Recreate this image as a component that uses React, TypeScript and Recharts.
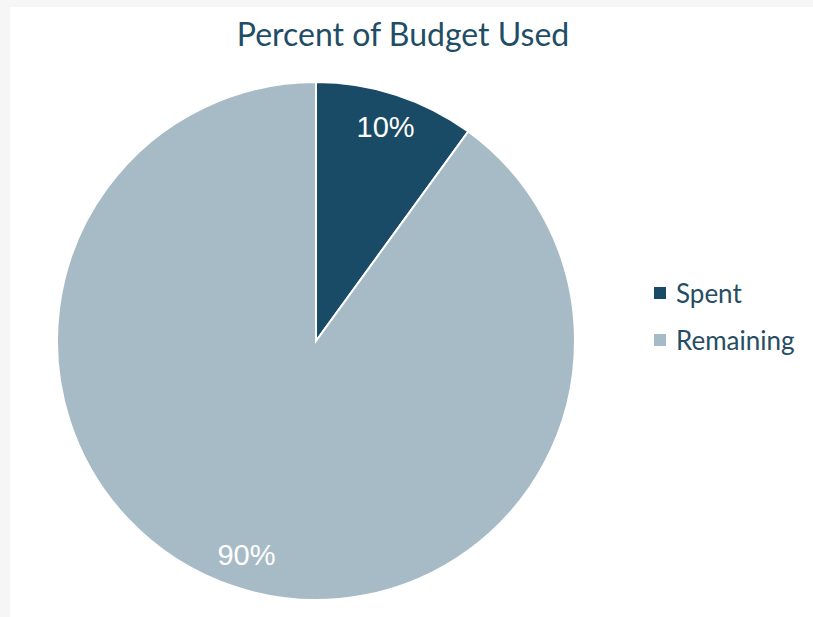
import { PieChart, Pie, Cell, Legend } from 'recharts'

// 预算使用情况
const categories = ['Spent', 'Remaining']
const values = [10, 90]
const labels = ['10%', '90%']
const colors = ['#194a66', '#a7bbc7']

const data = categories.map((name, i) => ({ name, value: values[i], label: labels[i] }))

const RADIAN = Math.PI / 180

function renderLabel(props: any) {
  const { cx, cy, midAngle, outerRadius, index } = props
  const r = outerRadius - 34
  const x = cx + r * Math.cos(-midAngle * RADIAN)
  const y = cy + r * Math.sin(-midAngle * RADIAN)
  return (
    <text
      x={x}
      y={y}
      fill="#ffffff"
      textAnchor="middle"
      dominantBaseline="central"
      fontSize={29}
      fontFamily="'Liberation Sans', Arial, sans-serif"
    >
      {data[index].label}
    </text>
  )
}

function LegendBox() {
  return (
    <div style={{ fontFamily: 'Lato, sans-serif', fontSize: 26, color: '#264d63' }}>
      {data.map((d, i) => (
        <div key={d.name} style={{ display: 'flex', alignItems: 'center', height: 47 }}>
          <span style={{ width: 12, height: 12, background: colors[i], marginRight: 10 }} />
          <span>{d.name}</span>
        </div>
      ))}
    </div>
  )
}

export default function App() {
  return (
    <div style={{ position: 'absolute', left: 0, top: 0, width: 813, height: 617, background: '#f6f6f6' }}>
      <div style={{ position: 'absolute', left: 10, top: 7, width: 803, height: 610, background: '#ffffff' }}>
        <PieChart width={803} height={610} margin={{ top: 0, right: 0, bottom: 0, left: 0 }}>
          <text
            x={393}
            y={26}
            textAnchor="middle"
            dominantBaseline="central"
            fill="#1f4d66"
            fontSize={32}
            fontFamily="Lato, sans-serif"
          >
            Percent of Budget Used
          </text>
          <Pie
            data={data}
            dataKey="value"
            nameKey="name"
            cx={306}
            cy={334}
            outerRadius={259}
            startAngle={90}
            endAngle={-270}
            stroke="#ffffff"
            strokeWidth={2}
            label={renderLabel}
            labelLine={false}
            isAnimationActive={false}
          >
            {data.map((d, i) => (
              <Cell key={d.name} fill={colors[i]} />
            ))}
          </Pie>
          <Legend
            layout="vertical"
            content={<LegendBox />}
            wrapperStyle={{ left: 644, top: 262, width: 160 }}
          />
        </PieChart>
      </div>
    </div>
  )
}
